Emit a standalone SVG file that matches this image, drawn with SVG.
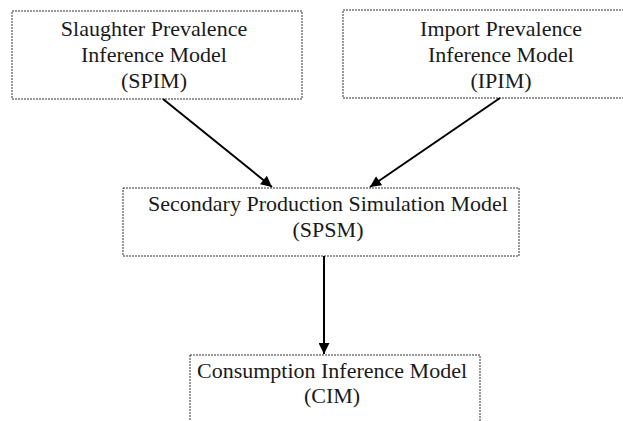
<svg xmlns="http://www.w3.org/2000/svg" width="623" height="421" viewBox="0 0 623 421">
<defs>
<style>
.box{fill:#fff;stroke:#333;stroke-width:1;stroke-dasharray:2 1}
.t{font-family:"Liberation Serif","Times New Roman",serif;font-size:22px;fill:#1a1a1a;text-anchor:middle}
.c{stroke:#000;stroke-width:2;fill:none}
</style>
<marker id="ah" viewBox="0 0 10 10" refX="10" refY="5" markerWidth="6" markerHeight="5.5" orient="auto" markerUnits="strokeWidth">
<path d="M0,0 L10,5 L0,10 z" fill="#000"/>
</marker>
</defs>
<rect width="623" height="421" fill="#fff"/>
<g id="spim">
<rect class="box" x="12" y="11" width="290" height="88"/>
<text class="t" x="154" y="36">Slaughter Prevalence</text>
<text class="t" x="154" y="62">Inference Model</text>
<text class="t" x="154" y="88">(SPIM)</text>
</g>
<g id="ipim">
<rect class="box" x="343" y="10" width="290" height="88"/>
<text class="t" x="501" y="36">Import Prevalence</text>
<text class="t" x="501" y="62">Inference Model</text>
<text class="t" x="501" y="88">(IPIM)</text>
</g>
<g id="spsm">
<rect class="box" x="123" y="188" width="396" height="68"/>
<text class="t" x="328" y="211">Secondary Production Simulation Model</text>
<text class="t" x="328" y="237">(SPSM)</text>
</g>
<g id="cim">
<rect class="box" x="190" y="355" width="290" height="80"/>
<text class="t" x="332" y="378">Consumption Inference Model</text>
<text class="t" x="332" y="403">(CIM)</text>
</g>
<g id="connectors">
<line class="c" x1="163" y1="99" x2="272" y2="187" marker-end="url(#ah)"/>
<line class="c" x1="500" y1="98" x2="370" y2="187" marker-end="url(#ah)"/>
<line class="c" x1="324" y1="256" x2="324" y2="354" marker-end="url(#ah)"/>
</g>
</svg>
